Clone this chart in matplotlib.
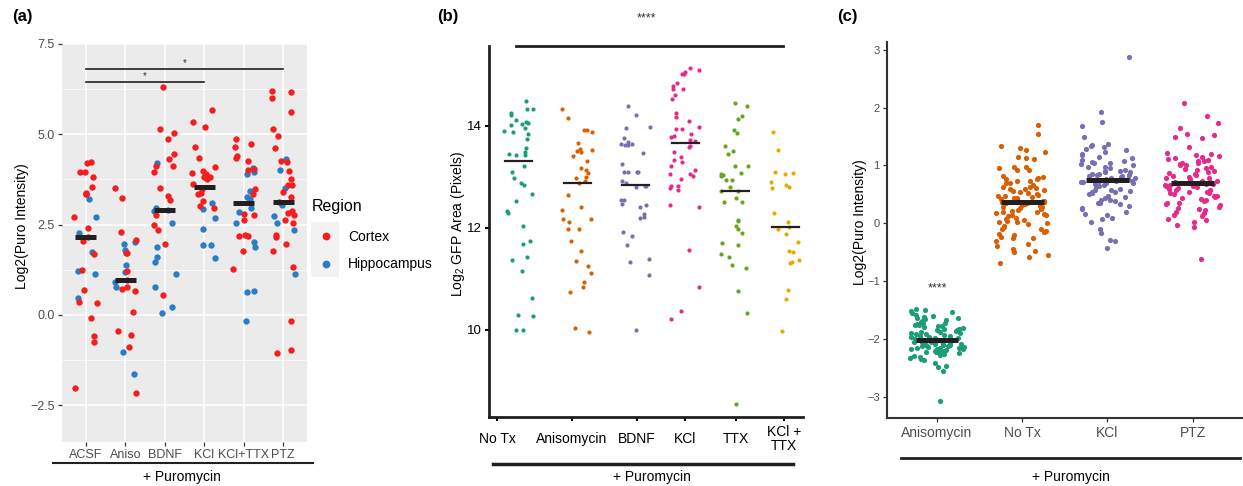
import numpy as np
import matplotlib
matplotlib.use('Agg')
import matplotlib.pyplot as plt
from matplotlib.lines import Line2D
from matplotlib.patches import Rectangle

plt.rcParams['font.family'] = ['Liberation Sans', 'DejaVu Sans']
plt.rcParams['mathtext.default'] = 'regular'

# ---------------- data: panel (a) ----------------
a_groups = ['ACSF', 'Aniso', 'BDNF', 'KCl', 'KCl+TTX', 'PTZ']
a_cortex = [
    [4.24, 4.20, 3.96, 3.96, 3.82, 3.55, 3.36, 3.34, 3.34, 2.71, 2.41, 2.15, 2.04, 1.67, 1.24, 0.68,
     0.35, 0.32, -0.08, -0.59, -0.76, -2.03],
    [3.51, 3.24, 2.30, 2.06, 1.71, 1.71, 1.22, 0.96, 0.77, 0.71, 0.65, 0.08, -0.46, -0.57, -0.88, -2.16],
    [6.30, 5.14, 5.02, 4.88, 4.46, 4.30, 4.11, 4.13, 3.95, 3.50, 3.18, 3.30, 2.76, 2.48, 2.34, 1.97, 0.55],
    [5.66, 5.21, 5.33, 4.64, 4.35, 4.10, 3.99, 3.93, 3.82, 3.89, 3.82, 3.76, 3.61, 3.48, 3.36, 3.34,
     3.14, 3.01, 2.97],
    [4.88, 4.65, 4.72, 4.40, 4.35, 4.25, 4.05, 4.02, 3.48, 3.35, 2.79, 2.75, 2.62, 2.17, 2.19, 2.20,
     1.78, 1.26],
    [6.17, 6.20, 6.00, 5.61, 5.14, 4.95, 4.61, 4.24, 4.25, 3.98, 3.76, 3.59, 3.59, 3.40, 3.26, 3.11,
     2.88, 2.81, 2.77, 2.62, 2.54, 2.20, 2.15, 1.97, 1.78, 1.32, -0.16, -0.97, -1.05],
]
a_hippo = [
    [3.21, 2.70, 2.27, 1.74, 1.22, 1.13, 0.46],
    [1.95, 2.02, 1.80, 1.39, 1.19, 0.78, 0.90, -1.02, -1.63],
    [4.21, 2.88, 2.95, 2.90, 2.53, 1.89, 1.59, 1.45, 1.13, 0.78, 0.22, 0.06],
    [3.10, 2.94, 2.67, 2.37, 1.92, 1.94, 1.58],
    [4.06, 3.95, 3.90, 3.44, 3.25, 3.20, 2.97, 2.85, 2.55, 2.02, 1.89, 0.64, 0.67, -0.16],
    [4.00, 4.30, 3.50, 3.05, 2.73, 2.55, 2.36, 1.13],
]

# ---------------- data: panel (b) ----------------
b_groups = ['No Tx', 'Anisomycin', 'BDNF', 'KCl', 'TTX', 'KCl +\nTTX']
b_values = [
    [14.49, 14.33, 14.33, 14.21, 14.25, 14.08, 14.12, 13.95, 13.90, 13.88, 13.83, 14.04, 14.06, 14.01,
     13.75, 13.57, 13.48, 13.44, 13.42, 13.42, 13.22, 13.09, 12.97, 12.88, 12.84, 12.67, 12.52, 12.33,
     12.29, 12.03, 11.75, 11.69, 11.42, 11.37, 11.15, 10.62, 10.29, 10.27, 9.99, 10.00],
    [14.32, 14.16, 13.91, 13.92, 13.87, 13.67, 13.48, 13.52, 13.54, 13.50, 13.41, 13.31, 13.17, 13.14,
     13.07, 12.97, 12.99, 12.91, 12.87, 12.65, 12.40, 12.35, 12.18, 12.12, 12.18, 11.97, 11.97, 11.75,
     11.54, 11.36, 11.25, 11.12, 10.93, 10.84, 10.75, 10.03, 9.96],
    [14.39, 14.21, 13.97, 13.95, 13.69, 13.63, 13.65, 13.64, 13.63, 13.77, 13.46, 13.25, 13.10, 13.10,
     13.09, 13.10, 12.92, 12.87, 12.83, 12.80, 12.83, 12.54, 12.55, 12.41, 12.46, 12.44, 12.27, 12.21,
     12.19, 11.92, 11.84, 11.67, 11.34, 11.39, 11.07, 9.99],
    [15.14, 15.09, 15.05, 15.02, 15.01, 14.84, 14.79, 14.73, 14.72, 14.60, 14.53, 14.25, 14.17, 14.09,
     13.97, 13.94, 13.94, 13.84, 13.80, 13.78, 13.73, 13.71, 13.58, 13.60, 13.48, 13.39, 13.34, 13.29,
     13.21, 13.14, 13.06, 13.06, 13.01, 12.96, 12.83, 12.78, 12.83, 12.75, 12.41, 12.44, 11.56, 10.84,
     10.38, 10.21],
    [14.44, 14.39, 14.20, 14.14, 13.91, 13.86, 13.61, 13.51, 13.45, 13.22, 13.22, 13.06, 13.03, 13.02,
     13.08, 12.94, 12.94, 12.81, 12.73, 12.72, 12.58, 12.50, 12.51, 12.16, 12.14, 12.03, 11.97, 11.90,
     11.71, 11.66, 11.48, 11.42, 11.27, 11.22, 10.76, 10.34, 8.54],
    [13.87, 13.52, 13.09, 13.05, 13.08, 12.81, 12.79, 12.90, 12.84, 12.29, 12.12, 12.02, 11.97, 11.88,
     11.73, 11.52, 11.55, 11.38, 11.33, 11.31, 10.79, 10.61, 9.97],
]

# ---------------- data: panel (c) ----------------
c_groups = ['Anisomycin', 'No Tx', 'KCl', 'PTZ']
c_aniso = [-1.48, -1.50, -1.51, -1.53, -1.55, -1.58, -1.60, -1.62, -1.63, -1.64, -1.66, -1.67, -1.69,
           -1.70, -1.72, -1.73, -1.74, -1.75, -1.76, -1.77, -1.78, -1.80, -1.81, -1.82, -1.83, -1.84,
           -1.85, -1.86, -1.87, -1.88, -1.89, -1.90, -1.91, -1.92, -1.93, -1.94, -1.95, -1.96, -1.97,
           -1.98, -1.99, -2.00, -2.01, -2.02, -2.03, -2.04, -2.04, -2.05, -2.05, -2.06, -2.06, -2.07,
           -2.08, -2.08, -2.09, -2.10, -2.10, -2.11, -2.12, -2.12, -2.13, -2.14, -2.15, -2.15, -2.16,
           -2.17, -2.18, -2.18, -2.19, -2.20, -2.20, -2.21, -2.22, -2.23, -2.24, -2.25, -2.26, -2.28,
           -2.30, -2.31, -2.33, -2.35, -2.36, -2.41, -2.47, -2.49, -2.55, -3.07]
c_notx = [1.70, 1.55, 1.34, 1.30, 1.27, 1.24, 1.14, 1.13, 1.12, 0.98, 0.97, 0.95, 0.93, 0.92, 0.82,
          0.80, 0.78, 0.77, 0.76, 0.74, 0.73, 0.70, 0.69, 0.66, 0.63, 0.62, 0.61, 0.60, 0.59, 0.58,
          0.56, 0.54, 0.52, 0.50, 0.49, 0.48, 0.47, 0.46, 0.44, 0.43, 0.42, 0.40, 0.39, 0.38, 0.37,
          0.37, 0.36, 0.35, 0.33, 0.31, 0.30, 0.29, 0.28, 0.27, 0.25, 0.23, 0.21, 0.20, 0.19, 0.18,
          0.17, 0.15, 0.14, 0.12, 0.10, 0.08, 0.05, 0.04, 0.03, 0.02, 0.00, -0.02, -0.04, -0.06,
          -0.09, -0.10, -0.13, -0.15, -0.18, -0.20, -0.24, -0.25, -0.26, -0.30, -0.35, -0.40, -0.45,
          -0.48, -0.50, -0.55, -0.58, -0.68]
c_kcl = [2.87, 1.92, 1.76, 1.69, 1.49, 1.38, 1.36, 1.33, 1.32, 1.28, 1.26, 1.24, 1.20, 1.18, 1.15,
         1.13, 1.10, 1.08, 1.06, 1.05, 1.04, 1.02, 1.00, 0.98, 0.97, 0.95, 0.93, 0.91, 0.90, 0.89,
         0.88, 0.86, 0.85, 0.84, 0.83, 0.82, 0.81, 0.80, 0.79, 0.78, 0.77, 0.76, 0.75, 0.74, 0.73,
         0.73, 0.72, 0.71, 0.70, 0.69, 0.68, 0.66, 0.64, 0.62, 0.60, 0.58, 0.57, 0.56, 0.55, 0.54,
         0.52, 0.50, 0.48, 0.45, 0.43, 0.41, 0.40, 0.38, 0.36, 0.35, 0.33, 0.30, 0.27, 0.25, 0.20,
         0.17, 0.15, 0.10, 0.08, 0.02, -0.10, -0.17, -0.28, -0.30, -0.43]
c_ptz = [2.08, 1.85, 1.73, 1.64, 1.55, 1.52, 1.50, 1.48, 1.32, 1.22, 1.19, 1.18, 1.16, 1.15, 1.13,
         1.12, 1.10, 1.08, 1.07, 1.05, 1.04, 1.02, 1.01, 1.00, 0.98, 0.96, 0.94, 0.92, 0.90, 0.88,
         0.87, 0.85, 0.84, 0.82, 0.80, 0.79, 0.78, 0.76, 0.75, 0.74, 0.73, 0.72, 0.71, 0.70, 0.69,
         0.68, 0.68, 0.67, 0.66, 0.65, 0.64, 0.62, 0.61, 0.60, 0.58, 0.57, 0.55, 0.54, 0.53, 0.52,
         0.50, 0.48, 0.47, 0.45, 0.44, 0.42, 0.40, 0.38, 0.36, 0.35, 0.33, 0.31, 0.28, 0.26, 0.24,
         0.23, 0.20, 0.18, 0.15, 0.12, 0.08, 0.05, 0.03, -0.03, -0.07, -0.62]
c_values = [c_aniso, c_notx, c_kcl, c_ptz]

red, blue = '#f51d1d', '#2a7dc3'
dark2 = ['#1b9e77', '#d95f02', '#7570b3', '#e7298a', '#66a61e', '#e6ab02']
bar_col = '#231f20'

W, H = 1243, 486
fig = plt.figure(figsize=(W / 100, H / 100), dpi=100)
fig.patch.set_facecolor('white')


def px_axes(l, t, r, b):
    return fig.add_axes([l / W, 1 - b / H, (r - l) / W, (b - t) / H])


def fx(x):
    return x / W


def fy(y):
    return 1 - y / H


def spread(n, half, seed=0.0):
    # fixed (hash-based) horizontal jitter, same on every run
    k = np.arange(n) + 1.0
    h = np.sin(k * 12.9898 + seed * 78.233) * 43758.5453
    return half * (2 * (h - np.floor(h)) - 1)


def hline(x0, x1, y, lw):
    fig.add_artist(Line2D([fx(x0), fx(x1)], [fy(y), fy(y)], color=bar_col, lw=lw))


# ---------------- panel (a) ----------------
axa = px_axes(62, 43.5, 307, 442)
axa.set_facecolor('#EBEBEB')
for s in axa.spines.values():
    s.set_visible(False)
axa.set_xlim(0.4, 6.6)
axa.set_ylim(-3.52, 7.51)
axa.set_yticks([-2.5, 0, 2.5, 5, 7.5], ['\u22122.5', '0.0', '2.5', '5.0', '7.5'])
axa.set_yticks([-1.25, 1.25, 3.75, 6.25], minor=True)
axa.set_xticks(range(1, 7), a_groups)
axa.grid(which='major', color='white', lw=1.1)
axa.grid(which='minor', axis='y', color='white', lw=0.5)
axa.set_axisbelow(True)
axa.tick_params(which='minor', length=0)
axa.tick_params(which='major', length=3, width=0.9, color='#333333', labelcolor='#4D4D4D',
                labelsize=9, pad=2)

for i in range(6):
    cx, hp = a_cortex[i], a_hippo[i]
    offs = spread(len(cx) + len(hp), 0.3, seed=i + 1)
    axa.scatter(i + 1 + offs[len(cx):], hp, s=21, color=blue, lw=0, zorder=3)
    axa.scatter(i + 1 + offs[:len(cx)], cx, s=21, color=red, lw=0, zorder=3)
    m = np.median(cx + hp)
    axa.plot([i + 0.73, i + 1.27], [m, m], color=bar_col, lw=3.6, solid_capstyle='butt', zorder=4)

axa.plot([1, 6], [6.80, 6.80], color=bar_col, lw=1.2)
axa.text(3.5, 6.83, '*', ha='center', va='bottom', fontsize=7, color='#333333')
axa.plot([1, 4], [6.44, 6.44], color=bar_col, lw=1.2)
axa.text(2.5, 6.47, '*', ha='center', va='bottom', fontsize=7, color='#333333')

fig.text(fx(12), fy(16), '(a)', fontsize=12, fontweight='bold', va='center', ha='left')
fig.text(fx(22), fy(226), 'Log2(Puro Intensity)', rotation=90, fontsize=10, ha='center', va='center')
hline(53, 313, 463, 1.5)
fig.text(fx(182), fy(477), '+ Puromycin', ha='center', va='center', fontsize=10)

# legend
fig.add_artist(Rectangle((fx(311), fy(277)), fx(339) - fx(311), fy(222) - fy(277),
                         transform=fig.transFigure, color='#F2F2F2', lw=0))
fig.text(fx(312), fy(207), 'Region', fontsize=11.5, ha='left', va='center')
for yy, col, lab in [(236.5, red, 'Cortex'), (264, blue, 'Hippocampus')]:
    fig.add_artist(Line2D([fx(325.5)], [fy(yy)], marker='o', ms=4.6, color=col, lw=0))
    fig.text(fx(348), fy(yy), lab, fontsize=10, ha='left', va='center')

# ---------------- panel (b) ----------------
b_centers = [518, 577, 635, 685, 735, 785]
b_ticks = [497, 572, 637, 685, 736, 784]
axb = px_axes(489, 45.7, 803, 416.7)
axb.set_facecolor('none')
axb.set_xlim(489, 803)
axb.set_ylim(8.30, 15.57)
for s in ['top', 'right']:
    axb.spines[s].set_visible(False)
for s in ['left', 'bottom']:
    axb.spines[s].set_linewidth(2)
    axb.spines[s].set_color(bar_col)
axb.set_yticks([10, 12, 14])
axb.set_xticks(b_ticks, b_groups)
axb.tick_params(axis='y', length=3, width=1.5, labelsize=9.5, pad=2)
axb.tick_params(axis='x', length=3, width=1.5, labelsize=10, pad=13)
for lab in axb.get_xticklabels():
    lab.set_verticalalignment('center')
    lab.set_linespacing(1.0)
for i, vals in enumerate(b_values):
    offs = spread(len(vals), 15, seed=10 + i)
    axb.scatter(b_centers[i] + offs, vals, s=9, color=dark2[i], lw=0, zorder=3)
    m = np.median(vals)
    axb.plot([b_centers[i] - 13.5, b_centers[i] + 13.5], [m, m], color=bar_col, lw=1.6, zorder=4)

axb.plot([515.7, 783], [15.57, 15.57], color=bar_col, lw=2, clip_on=False)
fig.text(fx(646), fy(18), '****', ha='center', va='center', fontsize=9, color='#333333')
fig.text(fx(437), fy(16.5), '(b)', fontsize=12, fontweight='bold', va='center', ha='left')
fig.text(fx(458), fy(224), 'Log$_2$ GFP Area (Pixels)', rotation=90, fontsize=10,
         ha='center', va='center')
hline(493, 793, 464, 2.5)
fig.text(fx(652), fy(477), '+ Puromycin', ha='center', va='center', fontsize=10)

# ---------------- panel (c) ----------------
axc = px_axes(886.7, 41.7, 1243, 417.7)
axc.set_facecolor('none')
axc.set_xlim(0.41, 4.59)
axc.set_ylim(-3.36, 3.14)
for s in ['top', 'right']:
    axc.spines[s].set_visible(False)
for s in ['left', 'bottom']:
    axc.spines[s].set_linewidth(1.5)
    axc.spines[s].set_color('#333333')
axc.set_yticks(range(-3, 4))
axc.set_xticks(range(1, 5), c_groups)
axc.tick_params(axis='y', length=3, width=0.9, color='#333333', labelcolor='#4D4D4D',
                labelsize=8, pad=2)
axc.tick_params(axis='x', length=3, width=0.9, color='#333333', labelcolor='#4D4D4D',
                labelsize=10, pad=3)
for i, vals in enumerate(c_values):
    offs = spread(len(vals), 0.32, seed=20 + i)
    axc.scatter(i + 1 + offs, vals, s=14, color=dark2[i], lw=0, zorder=3)
    m = np.median(vals)
    axc.plot([i + 0.75, i + 1.25], [m, m], color=bar_col, lw=3.6, solid_capstyle='butt', zorder=4)
axc.text(1, -1.13, '****', ha='center', va='center', fontsize=9, color='#333333')

fig.text(fx(837), fy(16), '(c)', fontsize=12, fontweight='bold', va='center', ha='left')
fig.text(fx(860), fy(222), 'Log2(Puro Intensity)', rotation=90, fontsize=10,
         ha='center', va='center')
hline(901, 1240, 458, 2)
fig.text(fx(1071), fy(477), '+ Puromycin', ha='center', va='center', fontsize=10)

fig.savefig('out.png', dpi=100)
